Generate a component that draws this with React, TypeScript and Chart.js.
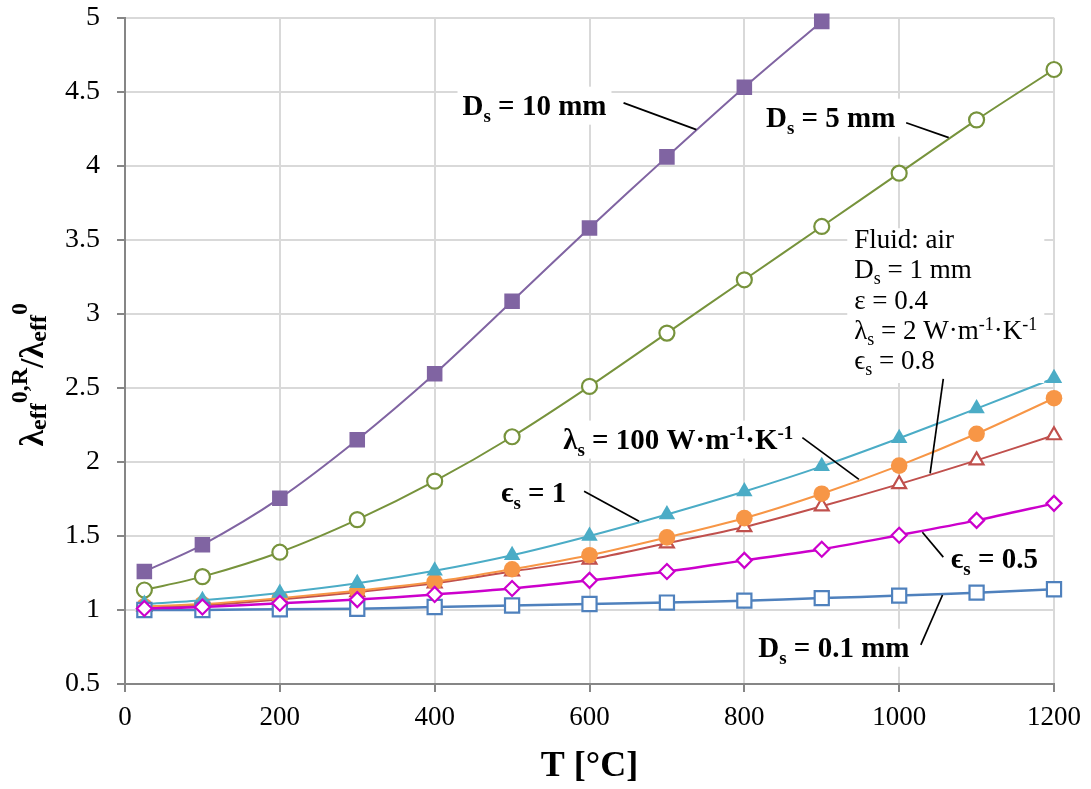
import React, { useEffect, useRef } from 'react';
import { Chart, registerables } from 'chart.js';

Chart.register(...registerables);

const FONT = "'Liberation Serif', 'Times New Roman', 'DejaVu Serif', serif";

// ---- data ----
const temperatureC = [25, 100, 200, 300, 400, 500, 600, 700, 800, 900, 1000, 1100, 1200];
const ds10mm = [1.26, 1.44, 1.755, 2.15, 2.595, 3.085, 3.58, 4.06, 4.53, 4.975];
const ds5mm = [1.135, 1.225, 1.39, 1.61, 1.87, 2.17, 2.51, 2.87, 3.23, 3.59, 3.95, 4.31, 4.65];
const epsS1 = [1.04, 1.065, 1.115, 1.18, 1.265, 1.37, 1.5, 1.645, 1.8, 1.97, 2.16, 2.36, 2.565];
const lambdaS100 = [1.025, 1.04, 1.08, 1.13, 1.19, 1.275, 1.37, 1.49, 1.62, 1.785, 1.975, 2.19, 2.43];
const reference = [1.02, 1.03, 1.07, 1.12, 1.18, 1.26, 1.34, 1.45, 1.56, 1.7, 1.85, 2.01, 2.18];
const epsS05 = [1.01, 1.02, 1.045, 1.07, 1.105, 1.145, 1.2, 1.26, 1.335, 1.41, 1.505, 1.605, 1.72];
const ds01mm = [1.0, 1.0, 1.005, 1.008, 1.02, 1.03, 1.04, 1.05, 1.063, 1.08, 1.097, 1.117, 1.14];

const xMin = 0, xMax = 1200, xStep = 200;
const yMin = 0.5, yMax = 5, yStep = 0.5;

type Run = { t: string; k?: 'sub' | 'sup' };

// annotation texts (positions in data units)
const labelDs10: Run[] = [{ t: 'D' }, { t: 's', k: 'sub' }, { t: ' = 10 mm' }];
const labelDs5: Run[] = [{ t: 'D' }, { t: 's', k: 'sub' }, { t: ' = 5 mm' }];
const labelLam100: Run[] = [{ t: 'λ' }, { t: 's', k: 'sub' }, { t: ' = 100 W·m' }, { t: '-1', k: 'sup' }, { t: '·K' }, { t: '-1', k: 'sup' }];
const labelEps1: Run[] = [{ t: 'ϵ' }, { t: 's', k: 'sub' }, { t: ' = 1' }];
const labelEps05: Run[] = [{ t: 'ϵ' }, { t: 's', k: 'sub' }, { t: ' = 0.5' }];
const labelDs01: Run[] = [{ t: 'D' }, { t: 's', k: 'sub' }, { t: ' = 0.1 mm' }];

const infoLines: Run[][] = [
  [{ t: 'Fluid: air' }],
  [{ t: 'D' }, { t: 's', k: 'sub' }, { t: ' = 1 mm' }],
  [{ t: 'ε = 0.4' }],
  [{ t: 'λ' }, { t: 's', k: 'sub' }, { t: ' = 2 W·m' }, { t: '-1', k: 'sup' }, { t: '·K' }, { t: '-1', k: 'sup' }],
  [{ t: 'ϵ' }, { t: 's', k: 'sub' }, { t: ' = 0.8' }],
];

const yTitle: Run[] = [
  { t: 'λ' }, { t: 'eff', k: 'sub' }, { t: '0,R', k: 'sup' }, { t: '/' }, { t: 'λ' }, { t: 'eff', k: 'sub' }, { t: '0', k: 'sup' },
];

const callouts = [
  { runs: labelDs10, x: 436, y: 4.345, line: [[644, 4.425], [738, 4.244]] },
  { runs: labelDs5, x: 828, y: 4.264, line: [[1009, 4.291], [1064, 4.19]] },
  { runs: labelLam100, x: 566, y: 2.09, line: [[875, 2.164], [948, 1.882]] },
  { runs: labelEps1, x: 486, y: 1.727, line: [[593, 1.801], [664, 1.599]] },
  { runs: labelEps05, x: 1067, y: 1.283, line: [[1030, 1.525], [1057, 1.357]] },
  { runs: labelDs01, x: 818, y: 0.684, line: [[1028, 0.764], [1056, 1.101]] },
];
const infoAnchor = { x: 942, y: 3.443, line: [[1057, 2.561], [1040, 1.922]] };

type RunStyle = { size: number; bold: boolean; small: number; subDy: number; supDy: number };

function fontFor(st: RunStyle, k?: string) {
  const s = k ? Math.round(st.size * st.small) : st.size;
  return `${st.bold ? 'bold ' : ''}${s}px ${FONT}`;
}
function measureRuns(ctx: CanvasRenderingContext2D, runs: Run[], st: RunStyle) {
  let w = 0;
  for (const r of runs) {
    ctx.font = fontFor(st, r.k);
    w += ctx.measureText(r.t).width;
  }
  return w;
}
function drawRuns(ctx: CanvasRenderingContext2D, runs: Run[], x: number, y: number, st: RunStyle) {
  let cx = x;
  ctx.textBaseline = 'alphabetic';
  ctx.textAlign = 'left';
  for (const r of runs) {
    ctx.font = fontFor(st, r.k);
    const dy = r.k === 'sub' ? st.subDy : r.k === 'sup' ? st.supDy : 0;
    ctx.fillText(r.t, cx, y + dy);
    cx += ctx.measureText(r.t).width;
  }
  return cx - x;
}

const boldLabel: RunStyle = { size: 29, bold: true, small: 0.65, subDy: 7, supDy: -10 };
const infoStyle: RunStyle = { size: 27, bold: false, small: 0.65, subDy: 6, supDy: -9 };
const titleStyle: RunStyle = { size: 34, bold: true, small: 0.72, subDy: 3, supDy: -16 };

const annotationPlugin = {
  id: 'annotations',
  afterDatasetsDraw(chart: any) {
    const ctx: CanvasRenderingContext2D = chart.ctx;
    const xs = chart.scales.x;
    const ys = chart.scales.y;
    const px = (v: number) => xs.getPixelForValue(v);
    const py = (v: number) => ys.getPixelForValue(v);
    ctx.save();

    // info box
    const ix = px(infoAnchor.x);
    const iy = py(infoAnchor.y);
    const lineGap = 30.2;
    let maxW = 0;
    for (const ln of infoLines) maxW = Math.max(maxW, measureRuns(ctx, ln, infoStyle));
    ctx.fillStyle = '#ffffff';
    ctx.fillRect(ix - 7, iy - 20, maxW + 14, lineGap * (infoLines.length - 1) + 34);
    ctx.fillStyle = '#000000';
    infoLines.forEach((ln, i) => drawRuns(ctx, ln, ix, iy + i * lineGap, infoStyle));

    // callout labels
    for (const c of callouts) {
      const x = px(c.x);
      const y = py(c.y);
      const w = measureRuns(ctx, c.runs, boldLabel);
      ctx.fillStyle = '#ffffff';
      ctx.fillRect(x - 5, y - 28, w + 10, 38);
    }
    ctx.fillStyle = '#000000';
    for (const c of callouts) drawRuns(ctx, c.runs, px(c.x), py(c.y), boldLabel);

    // connector lines
    ctx.strokeStyle = '#000000';
    ctx.lineWidth = 1.7;
    const lines = [...callouts.map((c) => c.line), infoAnchor.line];
    for (const l of lines) {
      ctx.beginPath();
      ctx.moveTo(px(l[0][0]), py(l[0][1]));
      ctx.lineTo(px(l[1][0]), py(l[1][1]));
      ctx.stroke();
    }
    ctx.restore();
  },
  afterDraw(chart: any) {
    const ctx: CanvasRenderingContext2D = chart.ctx;
    const area = chart.chartArea;
    ctx.save();
    ctx.translate(43, (area.top + area.bottom) / 2 + 24);
    ctx.rotate(-Math.PI / 2);
    ctx.fillStyle = '#000000';
    const w = measureRuns(ctx, yTitle, titleStyle);
    drawRuns(ctx, yTitle, -w / 2, 0, titleStyle);
    ctx.restore();
  },
};

function pts(values: number[]) {
  return values.map((v, i) => ({ x: temperatureC[i], y: v }));
}

export default function App() {
  const canvasRef = useRef<HTMLCanvasElement>(null);

  useEffect(() => {
    document.body.style.margin = '0';
    document.body.style.overflow = 'hidden';
    const canvas = canvasRef.current;
    if (!canvas) return;

    const mk = (label: string, values: number[], color: string, style: string, radius: number, filled: boolean, lw: number) => ({
      label,
      data: pts(values),
      borderColor: color,
      backgroundColor: filled ? color : '#ffffff',
      pointBackgroundColor: filled ? color : '#ffffff',
      pointBorderColor: color,
      pointBorderWidth: filled ? 0 : 2.2,
      pointStyle: style,
      pointRadius: radius,
      pointHoverRadius: radius,
      borderWidth: lw,
      tension: 0.3,
      fill: false,
      clip: 14,
    });

    const chart = new Chart(canvas, {
      type: 'line',
      data: {
        datasets: [
          mk('εs = 0.5', epsS05, '#CC00CC', 'rectRot', 7.5, false, 2.5),
          mk('Ds = 0.1 mm', ds01mm, '#4F81BD', 'rect', 10, false, 2.5),
          mk('εs = 1', epsS1, '#4BACC6', 'triangle', 9.5, true, 2),
          mk('λs = 100', lambdaS100, '#F79646', 'circle', 8.3, true, 2),
          mk('reference', reference, '#C0504D', 'triangle', 8, false, 2),
          mk('Ds = 5 mm', ds5mm, '#77933C', 'circle', 7.5, false, 2),
          mk('Ds = 10 mm', ds10mm, '#8064A2', 'rect', 11, true, 2),
        ],
      },
      options: {
        responsive: false,
        animation: false,
        events: [],
        layout: { padding: { top: 0, right: 9, bottom: 0, left: 0 } },
        plugins: { legend: { display: false }, tooltip: { enabled: false } },
        scales: {
          x: {
            type: 'linear',
            min: xMin,
            max: xMax,
            afterFit: (s: any) => { s.height = 105; },
            ticks: { stepSize: xStep, color: '#000', padding: 10, font: { family: FONT, size: 27 }, callback: (v: any) => String(v) },
            grid: { color: '#D9D9D9', lineWidth: 2, tickColor: '#868686', tickLength: 8, tickWidth: 2 },
            border: { display: true, color: '#868686', width: 2 },
            title: { display: true, text: 'T [°C]', color: '#000', padding: { top: 0, bottom: 1 }, font: { family: FONT, size: 36, weight: 'bold', lineHeight: 1.2 } },
          },
          y: {
            type: 'linear',
            min: yMin,
            max: yMax,
            afterFit: (s: any) => { s.width = 125; },
            ticks: { stepSize: yStep, color: '#000', padding: 17, font: { family: FONT, size: 28, lineHeight: 0.05 }, callback: (v: any) => String(v) },
            grid: { color: '#D9D9D9', lineWidth: 2, tickColor: '#868686', tickLength: 8, tickWidth: 2 },
            border: { display: true, color: '#868686', width: 2 },
          },
        },
      },
      plugins: [annotationPlugin],
    } as any);

    return () => chart.destroy();
  }, []);

  return (
    <div style={{ width: 1091, height: 789 }}>
      <canvas ref={canvasRef} width={1091} height={789} style={{ display: 'block' }} />
    </div>
  );
}
